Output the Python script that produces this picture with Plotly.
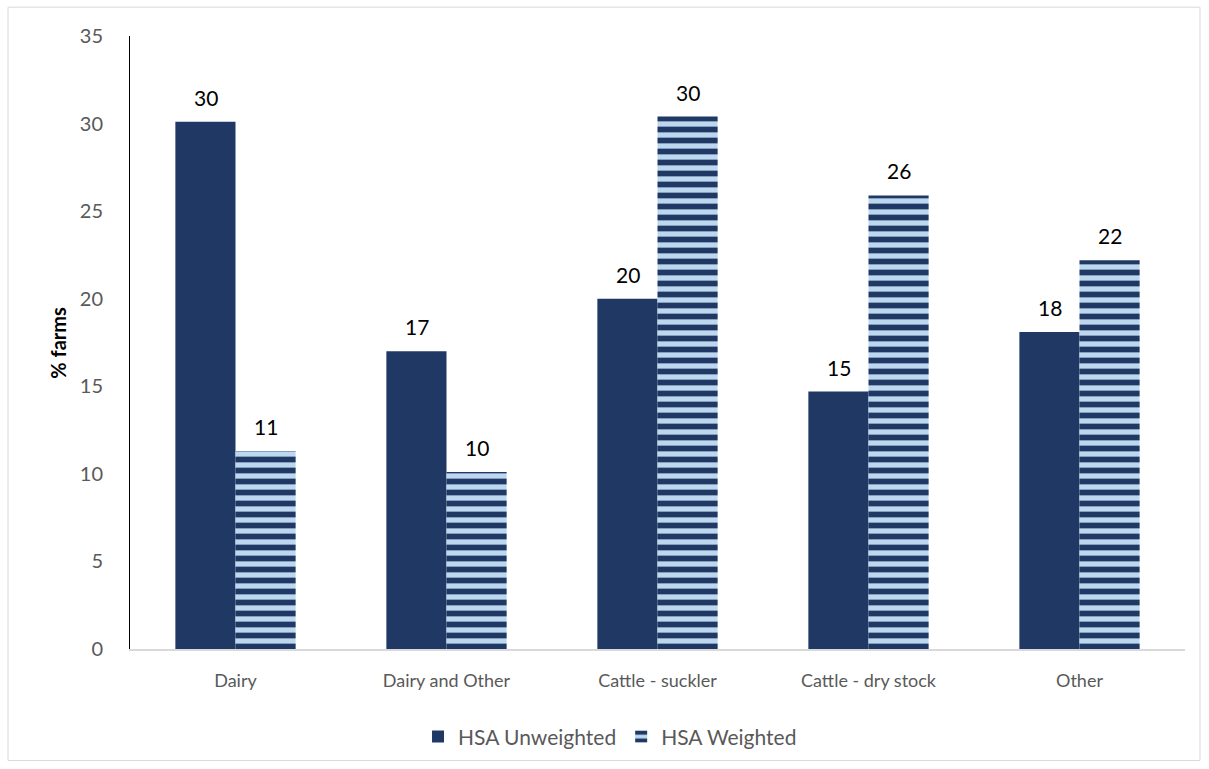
import plotly.graph_objects as go

categories = ["Dairy", "Dairy and Other", "Cattle - suckler", "Cattle - dry stock", "Other"]
unweighted = [30.1, 17.0, 20.0, 14.7, 18.1]
weighted = [11.3, 10.1, 30.4, 25.9, 22.2]
y_ticks = [0, 5, 10, 15, 20, 25, 30, 35]

NAVY = "#1F3864"
LIGHT = "#BDD7EE"
FONT = "Lato"

fig = go.Figure()
fig.add_trace(go.Bar(
    name="HSA Unweighted", x=categories, y=unweighted,
    marker=dict(color=NAVY, line=dict(width=0)),
))
fig.add_trace(go.Bar(
    name="HSA Weighted", x=categories, y=weighted,
    marker=dict(
        color=LIGHT, line=dict(width=0),
        pattern=dict(shape="-", fgcolor=NAVY, bgcolor=LIGHT,
                     size=11, solidity=0.52, fillmode="replace"),
    ),
))

# value labels above each bar
for vals, shift in ((unweighted, -30), (weighted, 30)):
    for cat, v in zip(categories, vals):
        fig.add_annotation(
            x=cat, y=v, text=f"{v:.0f}", showarrow=False,
            xshift=shift, yshift=10, yanchor="bottom",
            font=dict(family=FONT, size=21, color="#000000"),
        )

# y-axis title
fig.add_annotation(
    xref="paper", yref="paper", x=-0.069, y=0.5,
    text="<b>% farms</b>", textangle=-90, showarrow=False,
    xanchor="center", yanchor="middle",
    font=dict(family=FONT, size=20, color="#000000"),
)

# light outer frame around the chart
fig.add_shape(type="rect", xref="paper", yref="paper",
              x0=-0.1156, x1=1.0142, y0=-0.182, y1=1.047,
              line=dict(color="#D9D9D9", width=1), layer="below")

fig.update_layout(
    barmode="group", bargap=0.43, bargroupgap=0,
    width=1209, height=769,
    margin=dict(l=130, r=24, t=36, b=117),
    paper_bgcolor="white", plot_bgcolor="white",
    font=dict(family=FONT, size=18, color="#595959"),
    showlegend=True,
    legend=dict(orientation="h", x=0.455, xanchor="center", y=-0.11, yanchor="top",
                font=dict(family=FONT, size=21, color="#595959"),
                itemwidth=30, traceorder="normal"),
)
fig.update_yaxes(
    range=[0, 35], tickvals=y_ticks, showgrid=False, zeroline=False,
    showline=True, linecolor="#000000", linewidth=1, ticks="",
    tickfont=dict(family=FONT, size=20, color="#595959"), ticklabelstandoff=22,
)
fig.update_xaxes(
    showgrid=False, showline=True, linecolor="#D9D9D9", linewidth=1.5, ticks="",
    tickfont=dict(family=FONT, size=18, color="#595959"), ticklabelstandoff=15,
)

fig.write_html("out.html")
